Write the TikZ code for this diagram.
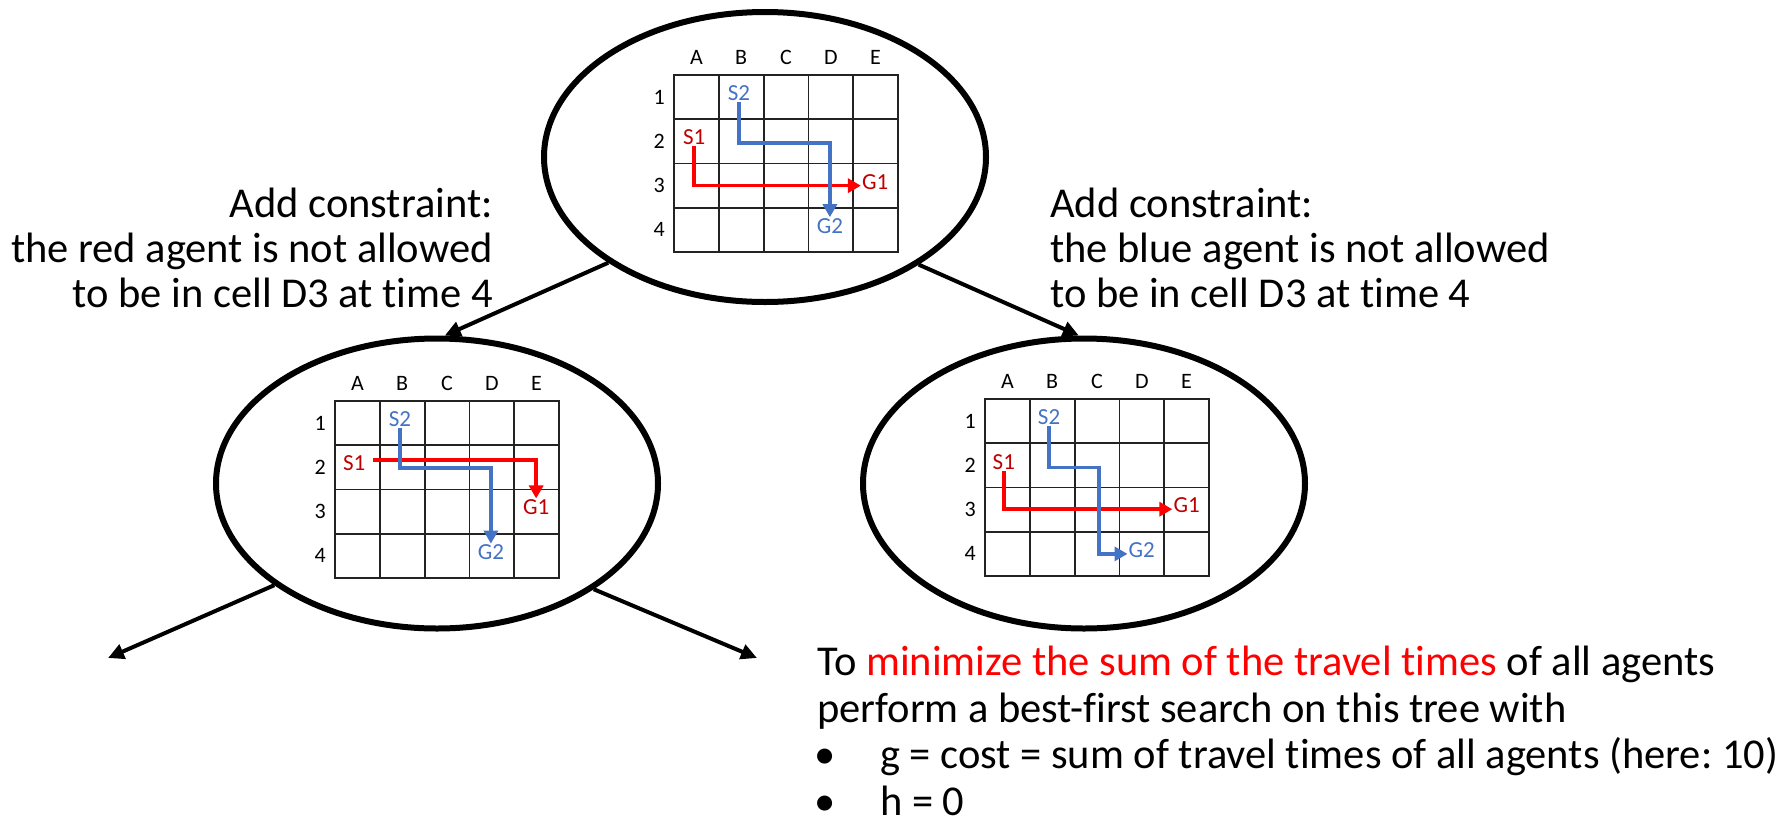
\documentclass[tikz,border=0pt]{standalone}
\usepackage{fontspec}
\setmainfont{Carlito}[Ligatures=NoCommon]
\frenchspacing
\usetikzlibrary{arrows.meta,shapes.geometric}
\definecolor{pathred}{RGB}{255,0,0}
\definecolor{labred}{RGB}{192,0,0}
\definecolor{agblue}{RGB}{68,114,196}
\definecolor{gridgray}{RGB}{35,35,35}
\tikzset{
  >={Triangle[length=16pt,width=15pt]},
  cbsnode/.style={ellipse,draw=black,line width=6pt,minimum width=442pt,
    minimum height=290pt,inner sep=0pt},
  treearrow/.style={->,line width=4pt},
  gridline/.style={draw=gridgray,line width=1.8pt},
  coordlbl/.style={font=\fontsize{22}{22}\selectfont,inner sep=0pt},
  agent/.style={font=\fontsize{23}{23}\selectfont,text=#1,inner sep=1pt},
  route/.style={-{Triangle[length=13pt,width=14pt]},line width=3.5pt,draw=#1},
  talk/.style={font=\fontsize{42.5}{45}\selectfont,inner sep=0pt},
  % 5x4 map, one unit = one cell
  pics/mapfgrid/.style={code={
    \draw[gridline] (0,0) rectangle (5,4);
    \foreach \i in {1,...,4} \draw[gridline] (\i,0) -- (\i,4);
    \foreach \j in {1,...,3} \draw[gridline] (0,\j) -- (5,\j);
    \foreach \c [count=\k from 0] in {A,B,C,D,E}
      \node[coordlbl] (-col\c) at (\k+0.5,-0.4) {\c};
    \foreach \r in {1,...,4}
      \node[coordlbl] (-row\r) at (-0.33,\r-0.5) {\r};
  }},
}
\begin{document}
\begin{tikzpicture}[x=1pt,y=-1pt]
  \useasboundingbox (0,0) rectangle (1792,831);
  % search tree
  \node[cbsnode] (root) at (765,157) {};
  \node[cbsnode] (redfix) at (437,483.5) {};
  \node[cbsnode] (bluefix) at (1084,483.5) {};
  \coordinate (leftkid) at (108,658);
  \coordinate (rightkid) at (757,658);
  \draw[treearrow] (root.214.8) -- (redfix.87.7);
  \draw[treearrow] (root.325.2) -- (bluefix.92.3);
  \draw[treearrow] (redfix.212.9) -- (leftkid);
  \draw[treearrow] (redfix.326.9) -- (rightkid);
  % root: both agents cross D3 at time 4
  \begin{scope}[shift={(674,75)},x=44.8pt,y=-44.25pt]
    \pic (tg) at (0,0) {mapfgrid};
    \node[agent=agblue] (tS2) at (1.45,0.41) {S2};
    \node[agent=agblue] (tG2) at (3.48,3.41) {G2};
    \node[agent=labred] (tS1) at (0.45,1.40) {S1};
    \node[agent=labred] (tG1) at (4.49,2.41) {G1};
    \draw[route=pathred] (tS1.south) |- ([yshift=-4pt]tG1.west);
    \draw[route=agblue] (tS2.south) |- (2,1.54) -| (tG2.north);
  \end{scope}
  % red agent detours
  \begin{scope}[shift={(335,401)},x=44.8pt,y=-44.25pt]
    \pic (lg) at (0,0) {mapfgrid};
    \node[agent=labred] (lS1) at (0.43,1.40) {S1};
    \node[agent=labred] (lG1) at (4.49,2.40) {G1};
    \node[agent=agblue] (lS2) at (1.45,0.41) {S2};
    \node[agent=agblue] (lG2) at (3.48,3.42) {G2};
    \draw[route=pathred] ([xshift=6pt,yshift=3pt]lS1.east) -| (lG1.north);
    \draw[route=agblue] (lS2.south) |- (2,1.51) -| (lG2.north);
  \end{scope}
  % blue agent detours
  \begin{scope}[shift={(985,399)},x=44.8pt,y=-44.25pt]
    \pic (rg) at (0,0) {mapfgrid};
    \node[agent=labred] (rS1) at (0.42,1.42) {S1};
    \node[agent=labred] (rG1) at (4.5,2.4) {G1};
    \node[agent=agblue] (rS2) at (1.43,0.41) {S2};
    \node[agent=agblue] (rG2) at (3.5,3.41) {G2};
    \draw[route=pathred] (rS1.south) |- ([yshift=-4pt]rG1.west);
    \draw[route=agblue] (rS2.south) |- (2.54,1.55) |- ([yshift=-4pt]rG2.west);
  \end{scope}
  % constraints
  \node[talk,align=right,anchor=base east] (redrule) at (493,307)
    {Add constraint:\\the red agent is not allowed\\to be in cell D3 at time 4};
  \node[talk,align=left,anchor=base west] (bluerule) at (1050,307)
    {Add constraint:\\the blue agent is not allowed\\to be in cell D3 at time 4};
  \node[talk,align=left,anchor=base west,font=\fontsize{42.5}{46.5}\selectfont] (goal) at (817,815)
    {To \textcolor{pathred}{minimize the sum of the travel times} of all agents\\
     perform a best-first search on this tree with\\
     \makebox[63pt][l]{\hspace*{-3pt}•}g = cost = sum of travel times of all agents (here: 10)\\
     \makebox[63pt][l]{\hspace*{-3pt}•}h = 0};
\end{tikzpicture}
\end{document}
